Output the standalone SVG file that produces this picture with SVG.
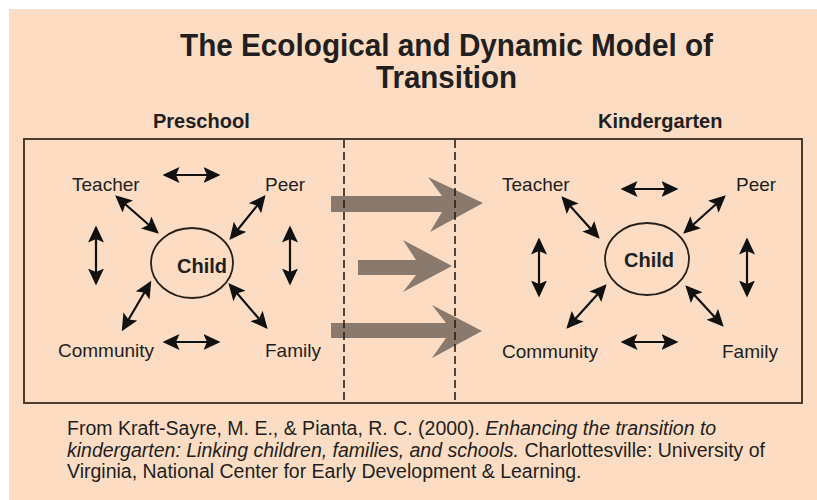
<svg xmlns="http://www.w3.org/2000/svg" width="817" height="500" viewBox="0 0 817 500">
  <style>
    text { font-family: "Liberation Sans", Arial, sans-serif; fill: #231f20; }
    .title { font-size: 31px; font-weight: bold; text-anchor: middle; }
    .head { font-size: 20px; font-weight: bold; }
    .lbl { font-size: 19px; }
    .child { font-size: 20px; font-weight: bold; text-anchor: middle; }
    .cap { font-size: 19.5px; }
    .it { font-style: italic; }
    .rel { stroke: #111; stroke-width: 2.2; fill: none; marker-start: url(#ah); marker-end: url(#ah); }
    .ell { fill: none; stroke: #2a2018; stroke-width: 1.8; }
    .big { fill: #8a7a6d; }
    .dash { stroke: #2a2018; stroke-width: 1.6; stroke-dasharray: 8 4; fill: none; }
  </style>
  <defs>
    <marker id="ah" viewBox="0 0 17 16" markerWidth="17" markerHeight="16" refX="14.5" refY="8" orient="auto-start-reverse" markerUnits="userSpaceOnUse">
      <path d="M0,0 L17,8 L0,16 L3.5,8 z" fill="#111"/>
    </marker>
  </defs>
  <rect x="0" y="0" width="817" height="500" fill="#ffffff"/>
  <rect x="9" y="9" width="808" height="491" fill="#fcddc3"/>

  <text class="title" x="446.5" y="56" textLength="533" lengthAdjust="spacingAndGlyphs">The Ecological and Dynamic Model of</text>
  <text class="title" x="446.5" y="88" textLength="141" lengthAdjust="spacingAndGlyphs">Transition</text>
  <text class="head" x="153" y="128">Preschool</text>
  <text class="head" x="598" y="128">Kindergarten</text>

  <rect x="24" y="139" width="778" height="264" fill="none" stroke="#4d3b2e" stroke-width="2"/>

  <g id="transition-arrows">
    <polygon class="big" points="331,196 442,196 428,177 483,203 430,232 442,212 331,212"/>
    <polygon class="big" points="358,260 416,260 403,240 452,266 403,292 416,275 358,275"/>
    <polygon class="big" points="331,323 446,323 432,305 482,331 432,358 446,338 331,338"/>
  </g>
  <g id="dividers">
    <line class="dash" x1="344" y1="140" x2="344" y2="402"/>
    <line class="dash" x1="455" y1="140" x2="455" y2="402"/>
  </g>

  <g id="preschool">
    <g id="ps-child"><ellipse class="ell" cx="192" cy="263" rx="41" ry="35"/><text class="child" x="202" y="273">Child</text></g>
    <g id="ps-teacher"><text class="lbl" x="72" y="191">Teacher</text></g>
    <g id="ps-peer"><text class="lbl" x="265" y="191">Peer</text></g>
    <g id="ps-community"><text class="lbl" x="58" y="357">Community</text></g>
    <g id="ps-family"><text class="lbl" x="265" y="357">Family</text></g>
  </g>
  <g id="kindergarten">
    <g id="kg-child"><ellipse class="ell" cx="647" cy="259" rx="42" ry="36"/><text class="child" x="649" y="267">Child</text></g>
    <g id="kg-teacher"><text class="lbl" x="502" y="191">Teacher</text></g>
    <g id="kg-peer"><text class="lbl" x="736" y="191">Peer</text></g>
    <g id="kg-community"><text class="lbl" x="502" y="358">Community</text></g>
    <g id="kg-family"><text class="lbl" x="722" y="358">Family</text></g>
  </g>

  <g id="connectors">
    <line class="rel" x1="165" y1="175" x2="218" y2="175"/>
    <line class="rel" x1="117" y1="197" x2="157" y2="232"/>
    <line class="rel" x1="264" y1="197" x2="231" y2="238"/>
    <line class="rel" x1="96" y1="228" x2="96" y2="283"/>
    <line class="rel" x1="290" y1="228" x2="290" y2="283"/>
    <line class="rel" x1="150" y1="283" x2="123" y2="329"/>
    <line class="rel" x1="230" y1="285" x2="266" y2="327"/>
    <line class="rel" x1="165" y1="342" x2="218" y2="342"/>

    <line class="rel" x1="623" y1="189" x2="676" y2="189"/>
    <line class="rel" x1="563" y1="198" x2="598" y2="237"/>
    <line class="rel" x1="724" y1="197" x2="685" y2="232"/>
    <line class="rel" x1="539" y1="240" x2="539" y2="295"/>
    <line class="rel" x1="747" y1="240" x2="747" y2="295"/>
    <line class="rel" x1="605" y1="286" x2="568" y2="327"/>
    <line class="rel" x1="687" y1="287" x2="722" y2="325"/>
    <line class="rel" x1="623" y1="342" x2="676" y2="342"/>
  </g>

  <g id="caption">
    <text class="cap" x="67" y="435">From Kraft-Sayre, M. E., &amp; Pianta, R. C. (2000). <tspan class="it">Enhancing the transition to</tspan></text>
    <text class="cap" x="67" y="456.5"><tspan class="it">kindergarten: Linking children, families, and schools.</tspan> Charlottesville: University of</text>
    <text class="cap" x="67" y="478">Virginia, National Center for Early Development &amp; Learning.</text>
  </g>
</svg>
